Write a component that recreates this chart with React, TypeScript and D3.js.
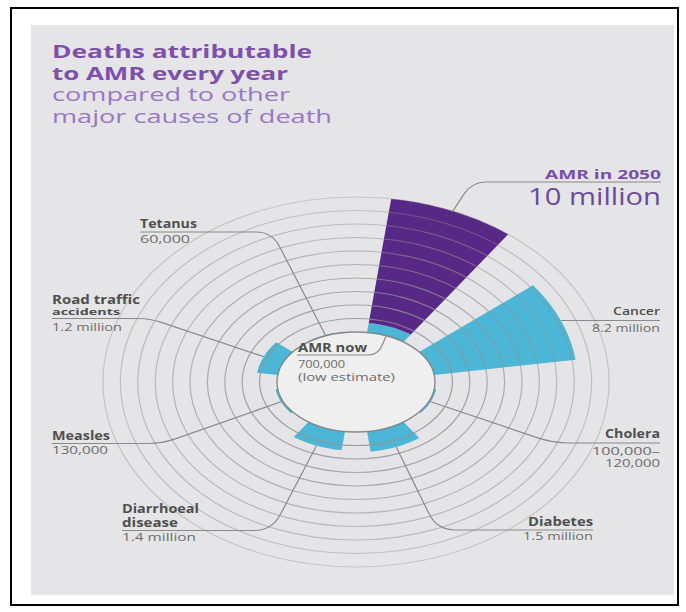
import React from "react";
import * as d3 from "d3";

// ---------- data ----------
const causes = [
  "AMR in 2050",
  "Cancer",
  "Cholera",
  "Diabetes",
  "Diarrhoeal disease",
  "Measles",
  "Road traffic accidents",
  "Tetanus",
];
const deathsMillions = [10, 8.2, 0.11, 1.5, 1.4, 0.13, 1.2, 0.06];
const amrNowMillions = 0.7;
const ringValues = [0, 1, 2, 3, 4, 5, 6, 7, 8, 9, 10];
const labelNames = [
  ["AMR in 2050"],
  ["Cancer"],
  ["Cholera"],
  ["Diabetes"],
  ["Diarrhoeal", "disease"],
  ["Measles"],
  ["Road traffic", "accidents"],
  ["Tetanus"],
];
const labelValues = [
  ["10 million"],
  ["8.2 million"],
  ["100,000–", "120,000"],
  ["1.5 million"],
  ["1.4 million"],
  ["130,000"],
  ["1.2 million"],
  ["60,000"],
];
const amrNowName = "AMR now";
const amrNowValue = ["700,000", "(low estimate)"];
const titleBold = ["Deaths attributable", "to AMR every year"];
const titleLight = ["compared to other", "major causes of death"];

// ---------- layout ----------
const W = 686;
const H = 612;
const cx = 356;
const cy = 382;
const FONT = "'Open Sans', 'Noto Sans', sans-serif";
const PURPLE = "#582887";
const TEAL = "#4bb6d6";
const NAME_C = "#4f4f4f";
const VAL_C = "#6c6c6c";
const LINE_C = "#8a8a8a";

const ax = d3.scaleLinear().domain([0, 10]).range([79, 253]);
const by = d3.scaleLinear().domain([0, 10]).range([50, 185]);
const sector = d3
  .scaleBand<string>()
  .domain(causes)
  .range([0, 360])
  .paddingInner(16 / 45)
  .paddingOuter(8 / 45);
const ringOpacity = d3.scaleLinear().domain([0, 10]).range([0.9, 0.4]);

const rad = (d: number) => (d * Math.PI) / 180;
const pt = (v: number, deg: number): [number, number] => [
  cx + ax(v) * Math.sin(rad(deg)),
  cy - by(v) * Math.cos(rad(deg)),
];
const midAngle = (c: string) => (sector(c) as number) + sector.bandwidth() / 2;

const lineGen = d3.line<[number, number]>();
function bandPath(v0: number, v1: number, a0: number, a1: number) {
  const N = 30;
  const outer = d3.range(N + 1).map((k) => pt(v1, a0 + ((a1 - a0) * k) / N));
  const inner = d3.range(N + 1).map((k) => pt(v0, a1 - ((a1 - a0) * k) / N));
  return (lineGen([...outer, ...inner]) as string) + "Z";
}

function leader(x0: number, y: number, corner: number | null, r: number, anchor: [number, number]) {
  if (corner === null) return `M${anchor[0]},${anchor[1]}L${x0},${anchor[1]}`;
  const dirH = Math.sign(corner - x0);
  const dx = anchor[0] - corner;
  const dy = anchor[1] - y;
  const L = Math.hypot(dx, dy);
  const ux = dx / L;
  const uy = dy / L;
  const p1x = corner - dirH * r;
  const p2x = corner + ux * r;
  const p2y = y + uy * r;
  return `M${x0},${y}L${p1x},${y}Q${corner},${y} ${p2x},${p2y}L${anchor[0]},${anchor[1]}`;
}

type Lay = {
  align: "start" | "end";
  x: number;
  nameY: number[];
  nameW: number[];
  nameSize: number[];
  nameWeight: number;
  valY: number[];
  valW: number[];
  valSize: number;
  lineY: number;
  corner: number | null;
  r: number;
};

const layouts: Lay[] = [
  { align: "end", x: 661, nameY: [179], nameW: [116], nameSize: [11.5], nameWeight: 700, valY: [205], valW: [133], valSize: 24, lineY: 182, corner: 472, r: 14 },
  { align: "end", x: 660, nameY: [315], nameW: [47], nameSize: [11], nameWeight: 600, valY: [332], valW: [68], valSize: 11, lineY: 320, corner: null, r: 0 },
  { align: "end", x: 660, nameY: [438], nameW: [55], nameSize: [11.5], nameWeight: 700, valY: [455, 467], valW: [68, 55], valSize: 10.5, lineY: 443, corner: 553, r: 16 },
  { align: "end", x: 593, nameY: [526], nameW: [65], nameSize: [11.5], nameWeight: 700, valY: [540], valW: [70], valSize: 11, lineY: 530, corner: 437, r: 18 },
  { align: "start", x: 122, nameY: [513, 527], nameW: [77, 56], nameSize: [11.5, 11.5], nameWeight: 700, valY: [541], valW: [74], valSize: 11, lineY: 530.5, corner: 272, r: 18 },
  { align: "start", x: 52, nameY: [440], nameW: [58], nameSize: [11.5], nameWeight: 700, valY: [454], valW: [56], valSize: 11, lineY: 443.5, corner: 162, r: 14 },
  { align: "start", x: 52, nameY: [304, 315], nameW: [88, 68], nameSize: [12.5, 9.5], nameWeight: 700, valY: [331], valW: [70], valSize: 11, lineY: 318.5, corner: 150, r: 12 },
  { align: "start", x: 140, nameY: [228], nameW: [57], nameSize: [11.5], nameWeight: 700, valY: [243], valW: [50], valSize: 11, lineY: 232, corner: 272, r: 16 },
];

function T(props: {
  x: number;
  y: number;
  w: number;
  size: number;
  weight?: number;
  fill: string;
  align?: "start" | "end";
  children: string;
}) {
  const x0 = props.align === "end" ? props.x - props.w : props.x;
  return (
    <text
      x={x0}
      y={props.y}
      textLength={props.w}
      lengthAdjust="spacingAndGlyphs"
      fontFamily={FONT}
      fontSize={props.size}
      fontWeight={props.weight ?? 400}
      fill={props.fill}
    >
      {props.children}
    </text>
  );
}

export default function App() {
  const amrAngles: [number, number] = [sector(causes[0]) as number, (sector(causes[0]) as number) + sector.bandwidth()];
  return (
    <svg
      width={W}
      height={H}
      viewBox={`0 0 ${W} ${H}`}
      style={{ position: "absolute", left: 0, top: 0, background: "#ffffff" }}
    >
      <rect x={0} y={0} width={W} height={H} fill="#ffffff" />
      <rect x={11} y={8} width={667} height={597} fill="#ffffff" stroke="#000" strokeWidth={2} />
      <rect x={31} y={25} width={643} height={570} fill="#e5e5e7" />

      {/* title */}
      {titleBold.map((t, i) => (
        <T key={t} x={52} y={58 + i * 22} w={[260, 236][i]} size={18} weight={700} fill="#7d50aa">
          {t}
        </T>
      ))}
      {titleLight.map((t, i) => (
        <T key={t} x={52} y={101 + i * 22} w={[238, 280][i]} size={18} weight={400} fill="#9878c4">
          {t}
        </T>
      ))}

      {/* inner disc */}
      <ellipse cx={cx} cy={cy} rx={ax(0)} ry={by(0)} fill="#efeff0" />

      {/* wedges */}
      <path d={bandPath(0, amrNowMillions, amrAngles[0], amrAngles[1])} fill={TEAL} />
      <path d={bandPath(amrNowMillions, deathsMillions[0], amrAngles[0], amrAngles[1])} fill={PURPLE} />
      {causes.slice(1).map((c, i) => {
        const a0 = sector(c) as number;
        return <path key={c} d={bandPath(0, deathsMillions[i + 1], a0, a0 + sector.bandwidth())} fill={TEAL} />;
      })}

      {/* rings */}
      {ringValues.map((v) => (
        <ellipse
          key={v}
          cx={cx}
          cy={cy}
          rx={ax(v)}
          ry={by(v)}
          fill="none"
          stroke={v === 0 ? "#808080" : "#939393"}
          strokeWidth={v === 0 ? 1.4 : 1.2}
          opacity={ringOpacity(v)}
        />
      ))}

      {/* leader lines */}
      {causes.map((c, i) => {
        const L = layouts[i];
        const anchor = pt(deathsMillions[i], midAngle(c));
        return (
          <path
            key={c}
            d={leader(L.x, L.lineY, L.corner, L.r, anchor)}
            fill="none"
            stroke={LINE_C}
            strokeWidth={1.2}
          />
        );
      })}
      <path
        d={leader(297, 355, 378, 10, pt(0, midAngle(causes[0])))}
        fill="none"
        stroke={LINE_C}
        strokeWidth={1.2}
      />

      {/* labels */}
      {causes.map((c, i) => {
        const L = layouts[i];
        const isAmr = i === 0;
        return (
          <g key={c}>
            {labelNames[i].map((n, j) => (
              <T
                key={n}
                x={L.x}
                y={L.nameY[j]}
                w={L.nameW[j]}
                size={L.nameSize[j]}
                weight={L.nameWeight}
                fill={isAmr ? "#7a4fa8" : NAME_C}
                align={L.align}
              >
                {n}
              </T>
            ))}
            {labelValues[i].map((n, j) => (
              <T
                key={n}
                x={L.x}
                y={L.valY[j]}
                w={L.valW[j]}
                size={L.valSize}
                weight={400}
                fill={isAmr ? "#6c4a9e" : VAL_C}
                align={L.align}
              >
                {n}
              </T>
            ))}
          </g>
        );
      })}
      <T x={298} y={352} w={69} size={11.5} weight={700} fill={NAME_C}>
        {amrNowName}
      </T>
      <T x={298} y={368} w={47} size={11} fill={VAL_C}>
        {amrNowValue[0]}
      </T>
      <T x={298} y={381} w={97} size={11} fill={VAL_C}>
        {amrNowValue[1]}
      </T>
    </svg>
  );
}
